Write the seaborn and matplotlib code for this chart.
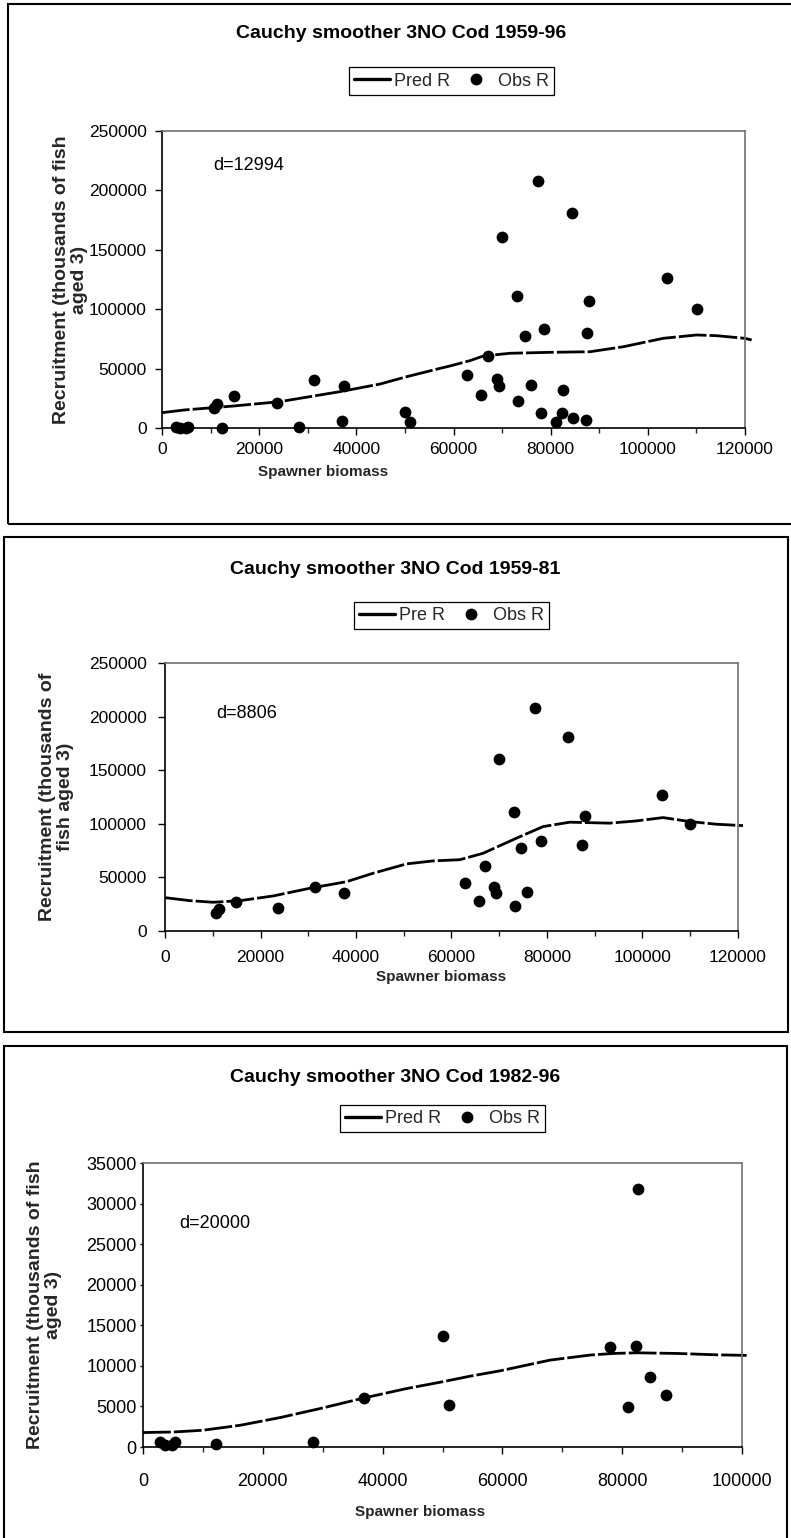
import numpy as np
import pandas as pd
import matplotlib
matplotlib.use("Agg")
import matplotlib.pyplot as plt
import seaborn as sns
from matplotlib.lines import Line2D
from matplotlib.patches import Rectangle
from matplotlib.ticker import MultipleLocator, FuncFormatter

# ---------------- data ----------------
# observed recruitment, 1959-81
ssb_5981 = [10760, 11400, 14880, 23700, 31380, 37560, 62800, 65700, 67050, 68900,
            69330, 70000, 73100, 73370, 74620, 75900, 77400, 78700, 84380, 87380,
            87900, 104000, 110050]
rec_5981 = [16900, 20200, 27300, 21000, 40700, 35000, 45000, 27600, 61000, 41100,
            35000, 160400, 111000, 23100, 77400, 36400, 207700, 83600, 181300, 79900,
            107000, 126600, 99900]
# observed recruitment, 1982-96
ssb_8296 = [2890, 3720, 4840, 5390, 12250, 28300, 36950, 50000, 51100, 77960,
            81030, 82270, 82580, 84620, 87320]
rec_8296 = [620, 210, 210, 620, 420, 620, 6050, 13700, 5150, 12350,
            4940, 12430, 31790, 8650, 6390]

# Cauchy smoother predictions
pred_x_5996 = [0, 4670, 14680, 24290, 36640, 44870, 50370, 57220, 59280, 63400, 66140,
               71630, 79860, 88090, 94950, 103190, 110050, 114170, 119930, 121370]
pred_y_5996 = [12900, 15200, 18500, 22200, 30600, 37000, 43200, 50200, 52200, 56700, 60600,
               62900, 63700, 64200, 68400, 75500, 78300, 77700, 75500, 74100]
pred_x_5981 = [0, 5230, 10110, 15700, 22670, 30350, 38030, 43600, 50590, 56160, 61750,
               66620, 73610, 79180, 84770, 93140, 98730, 104300, 109900, 115480, 121050]
pred_y_5981 = [31100, 28300, 26800, 28300, 32700, 39900, 46000, 53900, 62600, 65400, 66500,
               72500, 86600, 97400, 101500, 100600, 102700, 105800, 102100, 99600, 98300]
pred_x_8296 = [0, 5110, 9950, 16240, 22910, 29580, 36930, 44050, 49940, 54620, 59620,
               67960, 74640, 78530, 82430, 89110, 95780, 100780]
pred_y_8296 = [1780, 1850, 2060, 2680, 3630, 4740, 6050, 7210, 8030, 8730, 9390,
               10710, 11330, 11530, 11610, 11530, 11360, 11290]

titles = ["Cauchy smoother 3NO Cod 1959-96",
          "Cauchy smoother 3NO Cod 1959-81",
          "Cauchy smoother 3NO Cod 1982-96"]
d_labels = ["d=12994", "d=8806", "d=20000"]
pred_labels = ["Pred R", "Pre R", "Pred R"]
obs_label = "Obs R"
ylabels = ["Recruitment (thousands of fish\naged 3)",
           "Recruitment (thousands of\nfish aged 3)",
           "Recruitment (thousands of fish\naged 3)"]
xlabel = "Spawner biomass"

# ---------------- style ----------------
sns.set_style("ticks")
plt.rcParams['font.family'] = ['Liberation Sans', 'DejaVu Sans']

W, H = 791, 1538
fig = plt.figure(figsize=(W / 100, H / 100), dpi=100)
fig.patch.set_facecolor("white")


def frac_rect(l, t, r, b):
    return [l / W, 1 - b / H, (r - l) / W, (b - t) / H]


panels = [
    dict(rect=(162, 131, 745, 428), obs_x=ssb_5981 + ssb_8296, obs_y=rec_5981 + rec_8296,
         px=pred_x_5996, py=pred_y_5996, xmax=120000, ymax=250000, ystep=50000,
         title_xy=(401, 34), leg_xy=(451.5, 81), d_xy=(213, 166),
         ylab_x=88, xlab=(323, 465), frame=(8, 4, 800, 524),
         xpad=5, ylen=5, ypad=6, tsize=12.5),
    dict(rect=(165, 663, 738, 931), obs_x=ssb_5981, obs_y=rec_5981,
         px=pred_x_5981, py=pred_y_5981, xmax=120000, ymax=250000, ystep=50000,
         title_xy=(395, 570), leg_xy=(451.5, 615.5), d_xy=(216, 714),
         ylab_x=74, xlab=(441, 970), frame=(3.5, 537, 788, 1032),
         xpad=9, ylen=5, ypad=8, tsize=12.5),
    dict(rect=(143, 1163, 742, 1447), obs_x=ssb_8296, obs_y=rec_8296,
         px=pred_x_8296, py=pred_y_8296, xmax=100000, ymax=35000, ystep=5000,
         title_xy=(395, 1077), leg_xy=(442.5, 1118.5), d_xy=(179, 1223),
         ylab_x=62, xlab=(420, 1505), frame=(3.5, 1046, 786.5, 1545),
         xpad=14, ylen=2.5, ypad=2, tsize=13),
]

for i, p in enumerate(panels):
    l, t, r, b = p["rect"]
    ax = fig.add_axes(frac_rect(l, t, r, b))
    ax.set_facecolor("white")

    sns.lineplot(x=p["px"], y=p["py"], ax=ax, color="black", lw=2.0,
                 linestyle=(0, (10, 1.1)), estimator=None, clip_on=False, zorder=2)
    sns.scatterplot(x=p["obs_x"], y=p["obs_y"], ax=ax, color="black", s=72,
                    edgecolor="black", linewidth=0, clip_on=False, zorder=3)

    ax.set_xlim(0, p["xmax"])
    ax.set_ylim(0, p["ymax"])
    ax.xaxis.set_major_locator(MultipleLocator(20000))
    ax.xaxis.set_minor_locator(MultipleLocator(10000))
    ax.yaxis.set_major_locator(MultipleLocator(p["ystep"]))
    fmt = FuncFormatter(lambda v, pos: f"{int(round(v))}")
    ax.xaxis.set_major_formatter(fmt)
    ax.yaxis.set_major_formatter(fmt)
    ax.tick_params(axis="both", which="major", direction="out", width=1,
                   labelsize=p["tsize"], colors="black")
    ax.tick_params(axis="x", which="major", length=5, pad=p["xpad"])
    ax.tick_params(axis="y", which="major", length=p["ylen"], pad=p["ypad"])
    ax.tick_params(axis="x", which="minor", direction="out", length=3.5, width=1)

    for s in ["left", "bottom"]:
        ax.spines[s].set_color("black")
        ax.spines[s].set_linewidth(1.2)
    for s in ["top", "right"]:
        ax.spines[s].set_visible(True)
        ax.spines[s].set_color("#707070")
        ax.spines[s].set_linewidth(1.2)

    ax.set_ylabel(ylabels[i], fontsize=14, fontweight="bold", linespacing=1.1)
    ax.yaxis.set_label_coords((p["ylab_x"] - l) / (r - l), 0.5)
    ax.set_xlabel(xlabel, fontsize=11, fontweight="bold")
    ax.xaxis.set_label_coords((p["xlab"][0] - l) / (r - l), (b - p["xlab"][1]) / (b - t))

    dx, dy = p["d_xy"]
    ax.text((dx - l) / (r - l), (b - dy) / (b - t), d_labels[i], transform=ax.transAxes,
            ha="left", va="center", fontsize=13, color="black")

    tx, ty = p["title_xy"]
    fig.text(tx / W, 1 - ty / H, titles[i], ha="center", va="center",
             fontsize=14, fontweight="bold", color="black")

    handles = [Line2D([], [], color="black", lw=2.4),
               Line2D([], [], color="black", marker="o", ls="none", markersize=7.5)]
    lx, ly = p["leg_xy"]
    leg = ax.legend(handles, [pred_labels[i], obs_label], loc="center",
                    bbox_to_anchor=(lx / W, 1 - ly / H), bbox_transform=fig.transFigure,
                    ncol=2, frameon=True, fancybox=False, framealpha=1,
                    edgecolor="black", fontsize=13, handlelength=2.0,
                    handletextpad=0.2, columnspacing=0.45, borderpad=0.3,
                    borderaxespad=0)
    leg.get_frame().set_linewidth(0.9)

    fl, ft, fr, fb = p["frame"]
    fig.patches.append(Rectangle((fl / W, 1 - fb / H), (fr - fl) / W, (fb - ft) / H,
                                 transform=fig.transFigure, fill=False,
                                 edgecolor="black", linewidth=1.5, zorder=0))

fig.savefig("out.png", dpi=100, facecolor="white")
